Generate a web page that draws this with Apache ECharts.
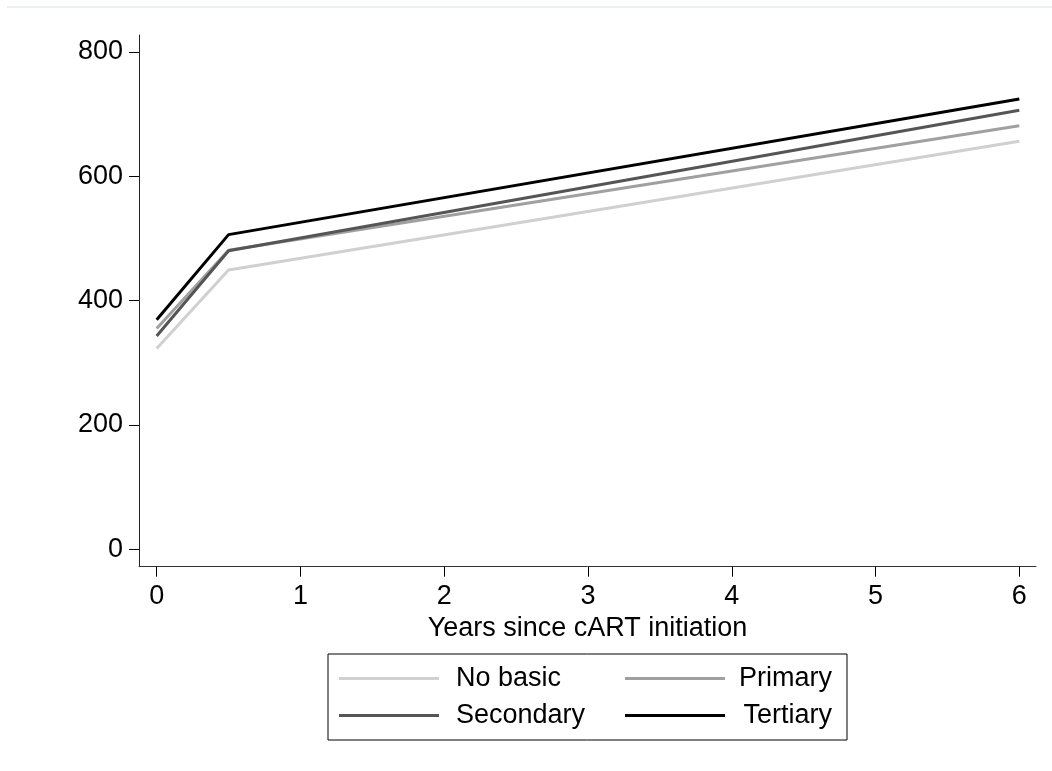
<!DOCTYPE html>
<html>
<head>
<meta charset="utf-8">
<script src="https://cdn.jsdelivr.net/npm/echarts@6/dist/echarts.min.js"></script>
<style>
html,body{margin:0;padding:0;background:#fff;}
#chart{width:1052px;height:771px;}
</style>
</head>
<body>
<div id="chart"></div>
<script>
// Data
const years = [0, 0.5, 6];
const noBasic = [323, 449, 656];
const primary = [355, 481, 681];
const secondary = [343, 480, 706];
const tertiary = [369, 506, 724];
const seriesNames = ['No basic', 'Primary', 'Secondary', 'Tertiary'];
const xTicks = [0, 1, 2, 3, 4, 5, 6];
const yTicks = [0, 200, 400, 600, 800];

const FONT = 'Liberation Sans, Arial, Helvetica, sans-serif';
const FS = 27;

function pts(vals){ return years.map((x,i)=>[x, vals[i]]); }

const chart = echarts.init(document.getElementById('chart'), null, {renderer:'canvas'});
const rightCol = {'Primary':true, 'Tertiary':true};

chart.setOption({
  animation: false,
  backgroundColor: '#fff',
  grid: {left: 139, right: 16, top: 35, bottom: 204.3, containLabel: false},
  xAxis: {
    type: 'value', min: -0.123, max: 6.116,
    name: 'Years since cART initiation', nameLocation: 'middle', nameGap: 39,
    nameTextStyle: {fontFamily: FONT, fontSize: FS, color: '#000'},
    axisLine: {show: true, onZero: false, lineStyle: {color: '#333', width: 1}},
    axisTick: {show: true, length: 10, customValues: xTicks, lineStyle: {color: '#000', width: 1}},
    axisLabel: {customValues: xTicks, margin: 16, fontFamily: FONT, fontSize: FS, color: '#000'},
    splitLine: {show: false}
  },
  yAxis: {
    type: 'value', min: -28, max: 827,
    axisLine: {show: true, onZero: false, lineStyle: {color: '#222', width: 1}},
    axisTick: {show: true, length: 10, customValues: yTicks, lineStyle: {color: '#000', width: 1}},
    axisLabel: {customValues: yTicks, margin: 16, fontFamily: FONT, fontSize: FS, color: '#000'},
    splitLine: {show: false}
  },
  legend: {
    left: 328, top: 654, width: 493,
    orient: 'horizontal', itemGap: 0,
    padding: [6, 15, 6, 11],
    borderColor: '#000', borderWidth: 1,
    icon: 'rect', itemWidth: 100, itemHeight: 3,
    data: seriesNames,
    formatter: function(name){ return rightCol[name] ? '{r|' + name + '}' : '{l|' + name + '}'; },
    textStyle: {
      fontFamily: FONT, fontSize: FS, color: '#000', lineHeight: 37,
      rich: {
        l: {width: 169, padding: [0,0,0,12], align: 'left', fontFamily: FONT, fontSize: FS, color: '#000', lineHeight: 37},
        r: {width: 90, padding: [0,0,0,12], align: 'right', fontFamily: FONT, fontSize: FS, color: '#000', lineHeight: 37}
      }
    }
  },
  graphic: [{
    type: 'line', shape: {x1: 7, y1: 7, x2: 1052, y2: 7},
    style: {stroke: '#e4ecea', lineWidth: 1.5}, silent: true
  }],
  series: [
    {name: 'No basic', type: 'line', data: pts(noBasic), showSymbol: false, symbol: 'none', lineStyle: {color: '#d0d0d0', width: 3}, itemStyle: {color: '#d0d0d0'}, z: 2},
    {name: 'Primary', type: 'line', data: pts(primary), showSymbol: false, symbol: 'none', lineStyle: {color: '#a0a0a0', width: 3}, itemStyle: {color: '#a0a0a0'}, z: 3},
    {name: 'Secondary', type: 'line', data: pts(secondary), showSymbol: false, symbol: 'none', lineStyle: {color: '#555555', width: 3}, itemStyle: {color: '#555555'}, z: 4},
    {name: 'Tertiary', type: 'line', data: pts(tertiary), showSymbol: false, symbol: 'none', lineStyle: {color: '#000000', width: 3}, itemStyle: {color: '#000000'}, z: 5}
  ]
});
</script>
</body>
</html>
